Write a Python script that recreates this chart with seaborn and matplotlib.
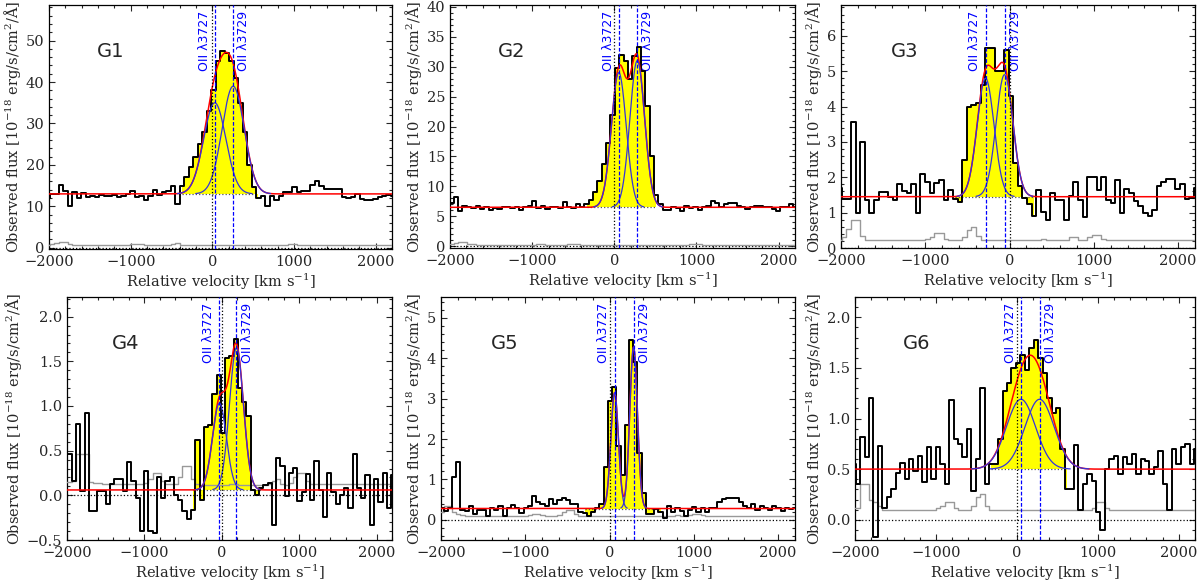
import numpy as np
import pandas as pd
import matplotlib
matplotlib.use("Agg")
import matplotlib.pyplot as plt
import matplotlib.transforms as mtransforms
from matplotlib.ticker import AutoMinorLocator, MultipleLocator
import seaborn as sns

sns.set_style("ticks")
plt.rcParams["font.family"] = ["DejaVu Serif"]
plt.rcParams["mathtext.fontset"] = "dejavuserif"

# velocity of the first pixel and pixel width [km/s] for each galaxy
vstart = [-2020, -2034, -2020, -2020, -1995, -2020]
dv = [55, 53, 55, 55, 50, 55]

# observed spectra, one value per pixel
flux_g1 = [12.0, 13.0, 13.0, 15.2, 13.6, 10.0, 13.4, 12.0, 13.2, 12.3,
           12.6, 12.2, 12.8, 12.4, 12.5, 12.8, 12.2, 12.6, 13.0, 13.6,
           12.2, 12.6, 11.6, 12.5, 14.0, 12.8, 13.5, 13.6, 15.0, 10.5,
           15.0, 17.0, 19.5, 22.0, 25.0, 28.0, 33.0, 38.0, 45.0, 47.5,
           47.0, 45.0, 41.0, 35.0, 28.0, 20.0, 14.6, 12.0, 12.4, 10.0,
           12.5, 11.5, 12.5, 13.5, 13.5, 14.7, 13.5, 13.6, 13.6, 15.2,
           16.0, 15.0, 14.3, 14.3, 14.3, 14.2, 12.3, 12.0, 12.2, 13.0,
           11.8, 11.5, 11.5, 11.8, 12.2, 12.5, 12.8, 12.5]
flux_g2 = [7.2, 7.2, 8.2, 5.8, 6.8, 6.6, 6.4, 6.7, 6.2, 6.5,
           6.0, 6.3, 6.2, 6.5, 6.6, 6.3, 6.6, 6.1, 6.5, 6.8,
           7.5, 6.4, 6.8, 6.2, 6.5, 6.6, 6.3, 7.4, 6.6, 6.3,
           7.0, 6.5, 7.1, 7.8, 9.0, 10.9, 13.7, 17.3, 22.0, 29.7,
           32.0, 30.9, 27.9, 31.8, 33.2, 29.3, 23.4, 15.0, 8.6, 7.0,
           6.1, 6.0, 6.5, 6.4, 5.9, 6.7, 6.3, 6.5, 6.0, 6.5,
           6.7, 7.5, 7.2, 6.5, 7.0, 7.2, 7.3, 6.8, 6.5, 6.2,
           6.6, 6.8, 6.7, 6.5, 6.6, 6.2, 5.9, 6.5, 6.6, 7.0, 6.6]
flux_g3 = [1.7, 1.38, 1.38, 3.57, 1.0, 3.0, 1.36, 1.0, 1.35, 1.58,
           1.58, 1.45, 1.36, 1.8, 1.6, 1.55, 1.8, 1.0, 2.1, 1.88,
           1.55, 1.85, 1.93, 1.36, 1.65, 1.38, 1.30, 2.5, 4.0, 4.05,
           4.1, 4.6, 5.65, 5.65, 5.0, 5.0, 5.6, 4.3, 2.4, 1.74,
           1.41, 1.25, 0.9, 1.65, 1.03, 0.8, 1.55, 1.36, 1.36, 0.8,
           1.46, 1.88, 1.36, 0.89, 2.02, 2.02, 1.65, 2.0, 1.36, 1.27,
           1.93, 1.0, 1.67, 1.55, 1.32, 1.18, 1.0, 0.9, 1.08, 1.74,
           1.88, 1.95, 1.95, 1.67, 1.8, 1.38, 1.4, 1.7]
flux_g4 = [0.46, 0.46, 0.16, 0.80, 0.05, 0.92, -0.18, -0.18, 0.05, 0.05,
           -0.10, 0.13, 0.18, 0.18, 0.05, 0.37, 0.16, -0.03, -0.40, 0.27,
           -0.40, -0.42, 0.21, -0.03, 0.16, 0.21, 0.0, -0.05, -0.18, -0.27,
           -0.16, 0.62, -0.05, 0.76, 0.79, 1.13, 1.35, 0.70, 1.54, 1.56,
           1.75, 1.20, 1.05, 0.89, 0.06, 0.0, 0.08, 0.12, 0.14, -0.33,
           0.42, 0.33, -0.01, 0.25, 0.31, -0.06, 0.04, 0.24, -0.05, 0.38,
           0.06, -0.24, 0.25, 0.04, -0.10, 0.0, 0.08, -0.14, 0.46, 0.08,
           -0.03, 0.23, -0.33, 0.18, -0.07, 0.25, -0.14, 0.23]
flux_g5 = [0.30, 0.22, 0.30, 1.05, 1.43, 0.25, 0.22, 0.35, 0.15, 0.25,
           0.25, 0.10, 0.30, 0.25, 0.33, 0.10, 0.30, 0.36, 0.30, 0.18,
           0.30, 0.35, 0.58, 0.45, 0.40, 0.35, 0.52, 0.40, 0.50, 0.55,
           0.50, 0.38, 0.38, 0.20, 0.18, 0.10, 0.20, 0.30, 0.38, 1.30,
           2.95, 3.30, 1.82, 1.10, 2.35, 4.45, 3.92, 1.66, 0.67, 0.15,
           0.15, 0.28, 0.20, 0.05, 0.35, 0.20, 0.30, 0.22, 0.10, 0.25,
           0.32, 0.20, 0.30, 0.20, 0.30, 0.30, 0.45, 0.52, 0.53, 0.53,
           0.53, 0.45, 0.35, 0.30, 0.38, 0.25, 0.35, 0.30, 0.25, 0.33,
           0.30, 0.22, 0.30, 0.28, 0.30]
flux_g6 = [0.55, 0.35, 0.82, 0.62, 1.20, -0.17, 0.73, 0.12, 0.22, 0.30,
           0.46, 0.56, 0.40, 0.60, 0.48, 0.63, 0.37, 0.72, 0.40, 0.72,
           0.55, 0.35, 1.18, 0.80, 0.75, 0.62, 0.90, 0.28, 0.60, 1.30,
           0.35, 0.55, 0.55, 0.80, 1.27, 1.35, 1.50, 1.55, 1.63, 1.48,
           1.70, 1.78, 1.60, 1.45, 1.20, 1.05, 1.10, 0.70, 0.30, 0.30,
           0.74, 0.10, 0.35, 0.45, 0.38, 0.08, -0.10, 0.50, 0.60, 0.63,
           0.45, 0.62, 0.55, 0.65, 0.45, 0.60, 0.58, 0.45, 0.52, 0.68,
           0.35, 0.10, 0.70, 0.55, 0.72, 0.75, 0.55, 0.70]

# error spectra
err_g1 = [0.6, 0.8, 1.2, 1.5, 1.5, 0.8, 0.6, 0.55, 0.55, 0.55,
          0.55, 0.55, 0.55, 0.55, 0.55, 0.55, 0.55, 0.55, 0.6, 0.85,
          0.85, 0.85, 0.7, 0.55, 0.55, 0.55, 0.55, 0.6, 1.0, 1.1,
          0.7, 0.55, 0.55, 0.55, 0.55, 0.55, 0.55, 0.55, 0.55, 0.55,
          0.55, 0.55, 0.55, 0.55, 0.55, 0.55, 0.55, 0.55, 0.55, 0.55,
          0.55, 0.55, 0.55, 0.6, 0.8, 0.8, 0.6, 0.55, 0.55, 0.55,
          0.55, 0.55, 0.55, 0.55, 0.55, 0.55, 0.55, 0.55, 0.55, 0.55,
          0.55, 0.55, 0.55, 0.55, 0.55, 0.55, 0.55, 0.55]
err_g2 = [0.3, 0.4, 0.6, 0.7, 0.7, 0.4, 0.3, 0.2, 0.2, 0.2,
          0.2, 0.2, 0.2, 0.2, 0.2, 0.2, 0.2, 0.2, 0.2, 0.2,
          0.25, 0.35, 0.35, 0.25, 0.2, 0.2, 0.2, 0.25, 0.4, 0.45,
          0.3, 0.2, 0.2, 0.2, 0.2, 0.2, 0.2, 0.2, 0.2, 0.2,
          0.2, 0.2, 0.2, 0.2, 0.2, 0.2, 0.2, 0.2, 0.2, 0.2,
          0.2, 0.2, 0.2, 0.2, 0.2, 0.25, 0.3, 0.35, 0.35, 0.25,
          0.2, 0.2, 0.2, 0.2, 0.2, 0.2, 0.2, 0.2, 0.2, 0.2,
          0.2, 0.2, 0.2, 0.2, 0.2, 0.2, 0.2, 0.2, 0.2, 0.2, 0.2]
err_g3 = [0.22, 0.3, 0.55, 0.8, 0.8, 0.35, 0.22, 0.22, 0.22, 0.22,
          0.22, 0.22, 0.22, 0.22, 0.22, 0.22, 0.22, 0.22, 0.22, 0.25,
          0.3, 0.42, 0.42, 0.25, 0.22, 0.22, 0.22, 0.3, 0.5, 0.58,
          0.35, 0.22, 0.22, 0.22, 0.22, 0.22, 0.22, 0.22, 0.22, 0.22,
          0.22, 0.22, 0.22, 0.22, 0.25, 0.22, 0.22, 0.22, 0.22, 0.22,
          0.3, 0.3, 0.22, 0.22, 0.3, 0.38, 0.38, 0.25, 0.22, 0.22,
          0.22, 0.22, 0.22, 0.22, 0.22, 0.22, 0.22, 0.22, 0.22, 0.22,
          0.22, 0.22, 0.22, 0.22, 0.22, 0.22, 0.22, 0.22]
err_g4 = [0.15, 0.15, 0.16, 0.46, 0.46, 0.46, 0.15, 0.14, 0.14, 0.13,
          0.13, 0.13, 0.13, 0.13, 0.13, 0.13, 0.13, 0.13, 0.13, 0.14,
          0.18, 0.25, 0.25, 0.16, 0.13, 0.13, 0.13, 0.2, 0.33, 0.33,
          0.18, 0.13, 0.12, 0.12, 0.12, 0.12, 0.12, 0.12, 0.12, 0.13,
          0.13, 0.12, 0.12, 0.12, 0.12, 0.12, 0.12, 0.12, 0.13, 0.16,
          0.18, 0.13, 0.12, 0.14, 0.2, 0.25, 0.25, 0.16, 0.13, 0.13,
          0.13, 0.13, 0.13, 0.13, 0.13, 0.13, 0.13, 0.13, 0.13, 0.13,
          0.13, 0.13, 0.13, 0.13, 0.13, 0.13, 0.13, 0.13]
err_g5 = [0.2, 0.33, 0.33, 0.2, 0.15, 0.12, 0.1, 0.1, 0.1, 0.1,
          0.1, 0.1, 0.1, 0.1, 0.1, 0.1, 0.1, 0.1, 0.1, 0.1,
          0.1, 0.12, 0.15, 0.15, 0.12, 0.1, 0.1, 0.1, 0.12, 0.2,
          0.25, 0.25, 0.15, 0.1, 0.1, 0.1, 0.1, 0.1, 0.1, 0.1,
          0.1, 0.1, 0.1, 0.1, 0.1, 0.1, 0.1, 0.1, 0.1, 0.1,
          0.1, 0.1, 0.1, 0.1, 0.1, 0.1, 0.12, 0.1, 0.1, 0.12,
          0.15, 0.15, 0.12, 0.1, 0.1, 0.1, 0.1, 0.1, 0.1, 0.1,
          0.1, 0.1, 0.1, 0.1, 0.1, 0.1, 0.1, 0.1, 0.1, 0.1,
          0.1, 0.1, 0.1, 0.1, 0.1]
err_g6 = [0.12, 0.12, 0.35, 0.35, 0.2, 0.18, 0.14, 0.1, 0.1, 0.1,
          0.1, 0.1, 0.1, 0.1, 0.1, 0.1, 0.1, 0.1, 0.1, 0.12,
          0.14, 0.18, 0.18, 0.12, 0.1, 0.1, 0.1, 0.14, 0.22, 0.25,
          0.14, 0.1, 0.1, 0.1, 0.1, 0.1, 0.1, 0.1, 0.1, 0.1,
          0.1, 0.1, 0.1, 0.1, 0.1, 0.1, 0.1, 0.1, 0.1, 0.1,
          0.1, 0.1, 0.1, 0.1, 0.12, 0.18, 0.18, 0.12, 0.1, 0.1,
          0.1, 0.1, 0.1, 0.1, 0.1, 0.1, 0.1, 0.1, 0.1, 0.1,
          0.1, 0.1, 0.1, 0.1, 0.1, 0.1, 0.1, 0.1]

# Gaussian fit parameters: continuum, centres of [OII]3727/3729, amplitudes, sigma
cont = [13.0, 6.5, 1.45, 0.06, 0.28, 0.5]
centres = [[30, 255], [55, 280], [-285, -60], [-30, 190], [60, 285], [50, 280]]
amps = [[22.0, 26.0], [22.5, 24.5], [3.35, 3.45], [0.97, 1.59], [2.87, 4.0], [0.69, 0.69]]
sigmas = [[135, 135], [90, 90], [100, 100], [90, 90], [45, 45], [180, 180]]
# velocity windows that are shaded as line flux
windows = [(-400, 590), (-340, 560), (-680, 300), (-390, 520), (-320, 620), (-350, 620)]
names = ["G1", "G2", "G3", "G4", "G5", "G6"]

fluxes = [flux_g1, flux_g2, flux_g3, flux_g4, flux_g5, flux_g6]
errors = [err_g1, err_g2, err_g3, err_g4, err_g5, err_g6]

# layout (pixel boxes: left, right, top, bottom) and y axes
boxes = [(49, 392, 5, 249), (450, 795, 5, 248), (841, 1195, 5, 248),
         (67, 392, 297, 540), (441, 795, 297, 540), (855, 1195, 297, 540)]
ylims = [(-0.3, 58.6), (-0.3, 40.3), (0, 6.87), (-0.5, 2.22), (-0.5, 5.52), (-0.2, 2.2)]
ysteps = [10, 5, 1, 0.5, 1, 0.5]

W, H = 1200, 584
fig = plt.figure(figsize=(W / 100, H / 100), dpi=100)

vgrid = np.linspace(-2100, 2300, 1500)

for k in range(6):
    l, r, t, b = boxes[k]
    ax = fig.add_axes([l / W, (H - b) / H, (r - l) / W, (b - t) / H])
    flux = np.array(fluxes[k])
    vel = vstart[k] + dv[k] * np.arange(len(flux))
    df = pd.DataFrame({"v": vel, "flux": flux, "err": errors[k]})
    c0 = cont[k]

    # shaded line region
    lo, hi = windows[k]
    m = (vel >= lo) & (vel <= hi)
    ax.fill_between(vel[m], c0, flux[m], step="mid", color="#ffff00", lw=0, zorder=1)
    ax.plot([vel[m][0], vel[m][-1]], [c0, c0], ls=":", color="#555555", lw=0.9, zorder=2)

    # zero level
    ax.axhline(0, ls=":", color="black", lw=0.9, zorder=2)

    # error spectrum and data
    sns.lineplot(data=df, x="v", y="err", ax=ax, color="#999999", lw=1.0,
                 drawstyle="steps-mid", estimator=None, zorder=3)
    sns.lineplot(data=df, x="v", y="flux", ax=ax, color="black", lw=1.4,
                 drawstyle="steps-mid", estimator=None, zorder=4)

    # fit
    g = [a * np.exp(-0.5 * ((vgrid - c) / s) ** 2)
         for a, c, s in zip(amps[k], centres[k], sigmas[k])]
    fit = pd.DataFrame({"v": vgrid, "tot": c0 + g[0] + g[1]})
    sns.lineplot(data=fit, x="v", y="tot", ax=ax, color="red", lw=1.1,
                 estimator=None, zorder=5)
    for gi, c, s in zip(g, centres[k], sigmas[k]):
        sel = np.abs(vgrid - c) < 3.4 * s
        comp = pd.DataFrame({"v": vgrid[sel], "y": c0 + gi[sel]})
        sns.lineplot(data=comp, x="v", y="y", ax=ax, color="#3434dc", lw=0.9,
                     estimator=None, zorder=6)

    # line markers
    ax.axvline(0, ls=":", color="black", lw=0.9, zorder=7)
    for c in centres[k]:
        ax.axvline(c, ls="--", color="blue", lw=0.9, dashes=(3, 1.5), zorder=7)
    trans = mtransforms.blended_transform_factory(ax.transData, ax.transAxes)
    off = mtransforms.ScaledTranslation(3 / 72, 0, fig.dpi_scale_trans)
    ax.text(centres[k][0], 0.975, "OII λ3727", rotation=90, color="blue",
            fontsize=9, family="DejaVu Sans", ha="right", va="top",
            transform=trans - off)
    ax.text(centres[k][1], 0.975, "OII λ3729", rotation=90, color="blue",
            fontsize=9, family="DejaVu Sans", ha="left", va="top",
            transform=trans + off)
    ax.text(0.18, 0.81, names[k], transform=ax.transAxes, fontsize=14,
            family="DejaVu Sans", ha="center", va="center")

    ax.set_xlim(-2000, 2200)
    ax.set_ylim(*ylims[k])
    ax.xaxis.set_major_locator(MultipleLocator(1000))
    ax.xaxis.set_minor_locator(AutoMinorLocator(5))
    ax.yaxis.set_major_locator(MultipleLocator(ysteps[k]))
    ax.yaxis.set_minor_locator(AutoMinorLocator(5))
    ax.tick_params(which="both", direction="in", top=True, right=True,
                   labelsize=10.5, width=0.8)
    ax.tick_params(axis="x", pad=4.5)
    ax.tick_params(axis="y", pad=3.5)
    ax.tick_params(which="major", length=4)
    ax.tick_params(which="minor", length=2)
    for sp in ax.spines.values():
        sp.set_linewidth(0.9)
        sp.set_color("black")
    ax.set_xlabel(r"Relative velocity [km s$^{-1}$]", fontsize=10.5, labelpad=2)
    ax.set_ylabel(r"Observed flux [10$^{-18}$ erg/s/cm$^2$/Å]", fontsize=10.5, labelpad=2)

fig.savefig("out.png", dpi=100)
